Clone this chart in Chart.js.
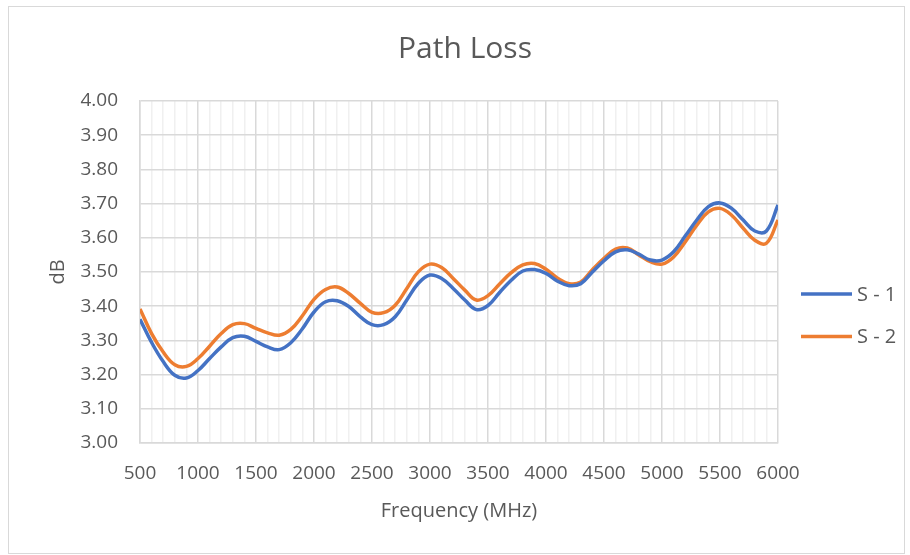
<!DOCTYPE html>
<html>
<head>
<meta charset="utf-8">
<script src="https://cdn.jsdelivr.net/npm/chart.js@4/dist/chart.umd.min.js"></script>
<style>
  html, body { margin: 0; padding: 0; background: #ffffff; }
  #wrap { position: relative; width: 910px; height: 555px; }
  #c { position: absolute; left: 0; top: 0; }
  #frame { position: absolute; left: 8px; top: 6px; width: 897px; height: 548px;
           box-sizing: border-box; border: 1.5px solid #d9d9d9; pointer-events: none; }
</style>
</head>
<body>
<div id="wrap">
  <canvas id="c" width="910" height="555"></canvas>
  <div id="frame"></div>
</div>
<script>
// ---- data ----
const frequencies = [500, 600, 700, 800, 900, 1000, 1100, 1200, 1300, 1400, 1500,
  1600, 1700, 1800, 1900, 2000, 2100, 2200, 2300, 2400, 2500,
  2600, 2700, 2800, 2900, 3000, 3100, 3200, 3300, 3400, 3500,
  3600, 3700, 3800, 3900, 4000, 4100, 4200, 4300, 4400, 4500,
  4600, 4700, 4800, 4900, 5000, 5100, 5200, 5300, 5400, 5500,
  5600, 5700, 5800, 5900, 6000];

const s1 = [3.362, 3.294, 3.238, 3.198, 3.190, 3.212, 3.247, 3.281, 3.308, 3.312, 3.297,
  3.281, 3.273, 3.293, 3.334, 3.383, 3.413, 3.416, 3.399, 3.369, 3.346,
  3.346, 3.369, 3.418, 3.467, 3.491, 3.481, 3.452, 3.418, 3.390, 3.402,
  3.440, 3.476, 3.503, 3.507, 3.496, 3.473, 3.460, 3.466, 3.500, 3.533,
  3.559, 3.565, 3.552, 3.535, 3.535, 3.559, 3.605, 3.652, 3.691, 3.702,
  3.686, 3.652, 3.620, 3.620, 3.696];

const s2 = [3.392, 3.320, 3.266, 3.229, 3.224, 3.247, 3.283, 3.320, 3.346, 3.349, 3.335,
  3.322, 3.315, 3.332, 3.372, 3.420, 3.449, 3.456, 3.437, 3.408, 3.382,
  3.381, 3.403, 3.452, 3.501, 3.523, 3.513, 3.481, 3.447, 3.418, 3.431,
  3.465, 3.498, 3.521, 3.525, 3.508, 3.482, 3.466, 3.471, 3.507, 3.540,
  3.567, 3.570, 3.550, 3.530, 3.523, 3.544, 3.588, 3.637, 3.676, 3.686,
  3.666, 3.628, 3.593, 3.584, 3.652];

const seriesNames = ['S - 1', 'S - 2'];
const seriesColors = ['#4472C4', '#ED7D31'];

const chartTitle = 'Path Loss';
const xTitle = 'Frequency (MHz)';
const yTitle = 'dB';
const xMin = 500, xMax = 6000, xStep = 100, xLabelEvery = 500;
const yMin = 3.0, yMax = 4.0, yStep = 0.1;

// ---- rendering ----
const FONT = "'Open Sans', 'Noto Sans', sans-serif";
const TEXT = '#595959';
Chart.defaults.font.family = FONT;
Chart.defaults.color = TEXT;

const sideLegend = {
  id: 'sideLegend',
  afterDraw(chart) {
    const ctx = chart.ctx;
    const area = chart.chartArea;
    chart.data.datasets.forEach((ds, i) => {
      const y = 294 + i * 42.5;
      ctx.save();
      ctx.strokeStyle = ds.borderColor;
      ctx.lineWidth = 3.5;
      ctx.lineCap = 'butt';
      ctx.beginPath();
      ctx.moveTo(area.right + 23, y);
      ctx.lineTo(area.right + 74, y);
      ctx.stroke();
      ctx.fillStyle = TEXT;
      ctx.font = '20px ' + FONT;
      ctx.textBaseline = 'middle';
      ctx.textAlign = 'left';
      ctx.fillText(ds.label, area.right + 79, y + 1);
      ctx.restore();
    });
  }
};

const datasets = [s1, s2].map((vals, i) => ({
  label: seriesNames[i],
  data: frequencies.map((f, k) => ({ x: f, y: vals[k] })),
  borderColor: seriesColors[i],
  backgroundColor: seriesColors[i],
  borderWidth: 3.5,
  pointRadius: 0,
  tension: 0.4,
  fill: false
}));

new Chart(document.getElementById('c'), {
  type: 'line',
  data: { datasets },
  plugins: [sideLegend],
  options: {
    responsive: false,
    animation: false,
    devicePixelRatio: 1,
    layout: { padding: { left: 20, right: 0, top: 0, bottom: 0 } },
    plugins: {
      legend: { display: false },
      tooltip: { enabled: false },
      title: {
        display: true,
        text: chartTitle,
        color: TEXT,
        font: { size: 30, weight: 'normal', family: FONT },
        padding: { top: 31, bottom: 34 }
      }
    },
    scales: {
      x: {
        type: 'linear',
        min: xMin, max: xMax,
        afterFit(scale) { scale.height = 112; },
        ticks: {
          stepSize: xStep,
          maxTicksLimit: 1000,
          autoSkip: false,
          maxRotation: 0,
          padding: 19,
          color: TEXT,
          font: { size: 19 },
          callback: (v) => (v % xLabelEvery === 0 ? String(v) : '')
        },
        grid: {
          drawTicks: false,
          lineWidth: 1.5,
          color: (c) => (c.tick && c.tick.value % xLabelEvery === 0 ? '#d9d9d9' : '#f0f0f0')
        },
        border: { color: '#d9d9d9', width: 1.5 },
        title: {
          display: true, text: xTitle, color: TEXT,
          font: { size: 20 }, padding: { top: 0, bottom: 32 }
        }
      },
      y: {
        type: 'linear',
        min: yMin, max: yMax,
        afterFit(scale) { scale.width = 120; },
        ticks: {
          stepSize: yStep,
          padding: 22,
          color: TEXT,
          font: { size: 19 },
          callback: (v) => Number(v).toFixed(2)
        },
        grid: { drawTicks: false, lineWidth: 1.5, color: '#d9d9d9' },
        border: { color: '#d9d9d9', width: 1.5 },
        title: {
          display: true, text: yTitle, color: TEXT,
          font: { size: 20 }, padding: { top: 26, bottom: 0 }
        }
      },
      yR: {
        type: 'linear',
        position: 'right',
        min: 0, max: 1,
        afterFit(scale) { scale.width = 132; },
        ticks: { display: false },
        grid: { display: false, drawTicks: false },
        border: { display: false }
      }
    }
  }
});
</script>
</body>
</html>
